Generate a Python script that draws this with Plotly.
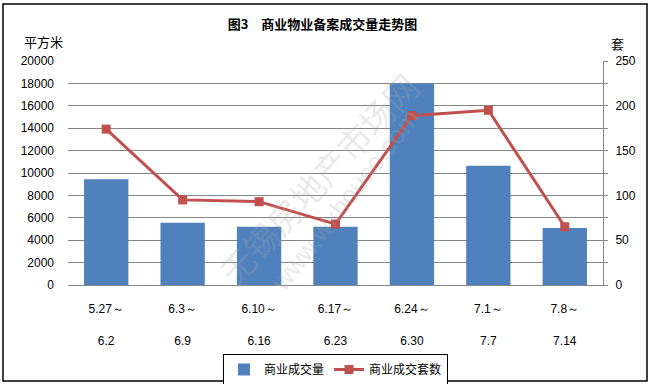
import plotly.graph_objects as go

categories = ["5.27～<br><br>6.2", "6.3～<br><br>6.9", "6.10～<br><br>6.16", "6.17～<br><br>6.23",
              "6.24～<br><br>6.30", "7.1～<br><br>7.7", "7.8～<br><br>7.14"]
area = [9450, 5550, 5200, 5200, 18000, 10650, 5100]
units = [174, 95, 93, 68, 189, 195, 65]

left_ticks = list(range(0, 20001, 2000))
right_ticks = list(range(0, 251, 50))

CJK = "Noto Sans CJK SC"
NUM = "Liberation Sans"
W, H = 649, 384
L, R, T, B = 68, 46, 61, 99
pw, ph = W - L - R, H - T - B

def px(x):
    return (x - L) / pw

def py(y):
    return (H - B - y) / ph

fig = go.Figure()
fig.add_trace(go.Bar(x=categories, y=area, name="商业成交量", marker_color="#4F81BD",
                     marker_line_width=0, yaxis="y"))
fig.add_trace(go.Scatter(x=categories, y=units, name="商业成交套数", mode="lines+markers",
                         line=dict(color="#C0504D", width=3),
                         marker=dict(symbol="square", size=9, color="#C0504D"),
                         yaxis="y2"))

fig.update_layout(
    width=W, height=H,
    margin=dict(l=L, r=R, t=T, b=B, autoexpand=False),
    paper_bgcolor="white", plot_bgcolor="white",
    bargap=0.42,
    showlegend=True,
    title=dict(text="<b>图3　商业物业备案成交量走势图</b>", x=0.497, xanchor="center",
               y=1 - 24 / H, yanchor="middle",
               font=dict(family=CJK, size=13, color="black")),
    xaxis=dict(type="category", showline=True, linecolor="#868686", linewidth=1,
               ticks="", showgrid=False, ticklabelstandoff=13, automargin=False,
               tickfont=dict(family=NUM, size=12, color="black")),
    yaxis=dict(range=[0, 20000], tickvals=left_ticks, tickformat="d", showgrid=True,
               gridcolor="#868686", gridwidth=1, zeroline=False, showline=False,
               ticks="", automargin=False, ticklabelstandoff=13,
               tickfont=dict(family=NUM, size=12, color="black")),
    yaxis2=dict(range=[0, 250], tickvals=right_ticks, tickformat="d", overlaying="y", side="right",
                showgrid=False, zeroline=False, showline=True, linecolor="#868686",
                ticks="outside", ticklen=4, tickcolor="#868686", automargin=False,
                ticklabelstandoff=5,
                minor=dict(dtick=25, ticks="outside", ticklen=4, tickcolor="#868686"),
                tickfont=dict(family=NUM, size=12, color="black")),
    legend=dict(orientation="h", x=0.5, xanchor="center", y=py(354), yanchor="top",
                bordercolor="black", borderwidth=1, bgcolor="white",
                font=dict(family=CJK, size=12, color="black"),
                itemwidth=30, tracegroupgap=0),
)

fig.add_annotation(text="平方米", x=px(43), y=py(42), xref="paper", yref="paper",
                   xanchor="center", yanchor="middle",
                   showarrow=False, font=dict(family=CJK, size=13, color="black"))
fig.add_annotation(text="套", x=px(618), y=py(44), xref="paper", yref="paper",
                   xanchor="center", yanchor="middle",
                   showarrow=False, font=dict(family=CJK, size=13, color="black"))

# watermark
fig.add_annotation(text="无锡房地产市场网", x=px(318), y=py(178), xref="paper", yref="paper",
                   xanchor="center", yanchor="middle",
                   showarrow=False, textangle=-47,
                   font=dict(family=CJK, size=34, color="rgba(170,170,170,0.25)"))
fig.add_annotation(text="www.wxhouse.com", x=px(345), y=py(200), xref="paper", yref="paper",
                   xanchor="center", yanchor="middle",
                   showarrow=False, textangle=-52,
                   font=dict(family=NUM, size=26, color="rgba(170,170,170,0.25)"))

fig.add_shape(type="rect", xref="paper", yref="paper",
              x0=px(3), x1=px(647), y0=py(381), y1=py(4),
              line=dict(color="black", width=1.5), layer="below")

fig.write_html("out.html", config={"displayModeBar": False},
               post_script="document.body.style.margin='0';document.body.style.overflow='hidden';")
